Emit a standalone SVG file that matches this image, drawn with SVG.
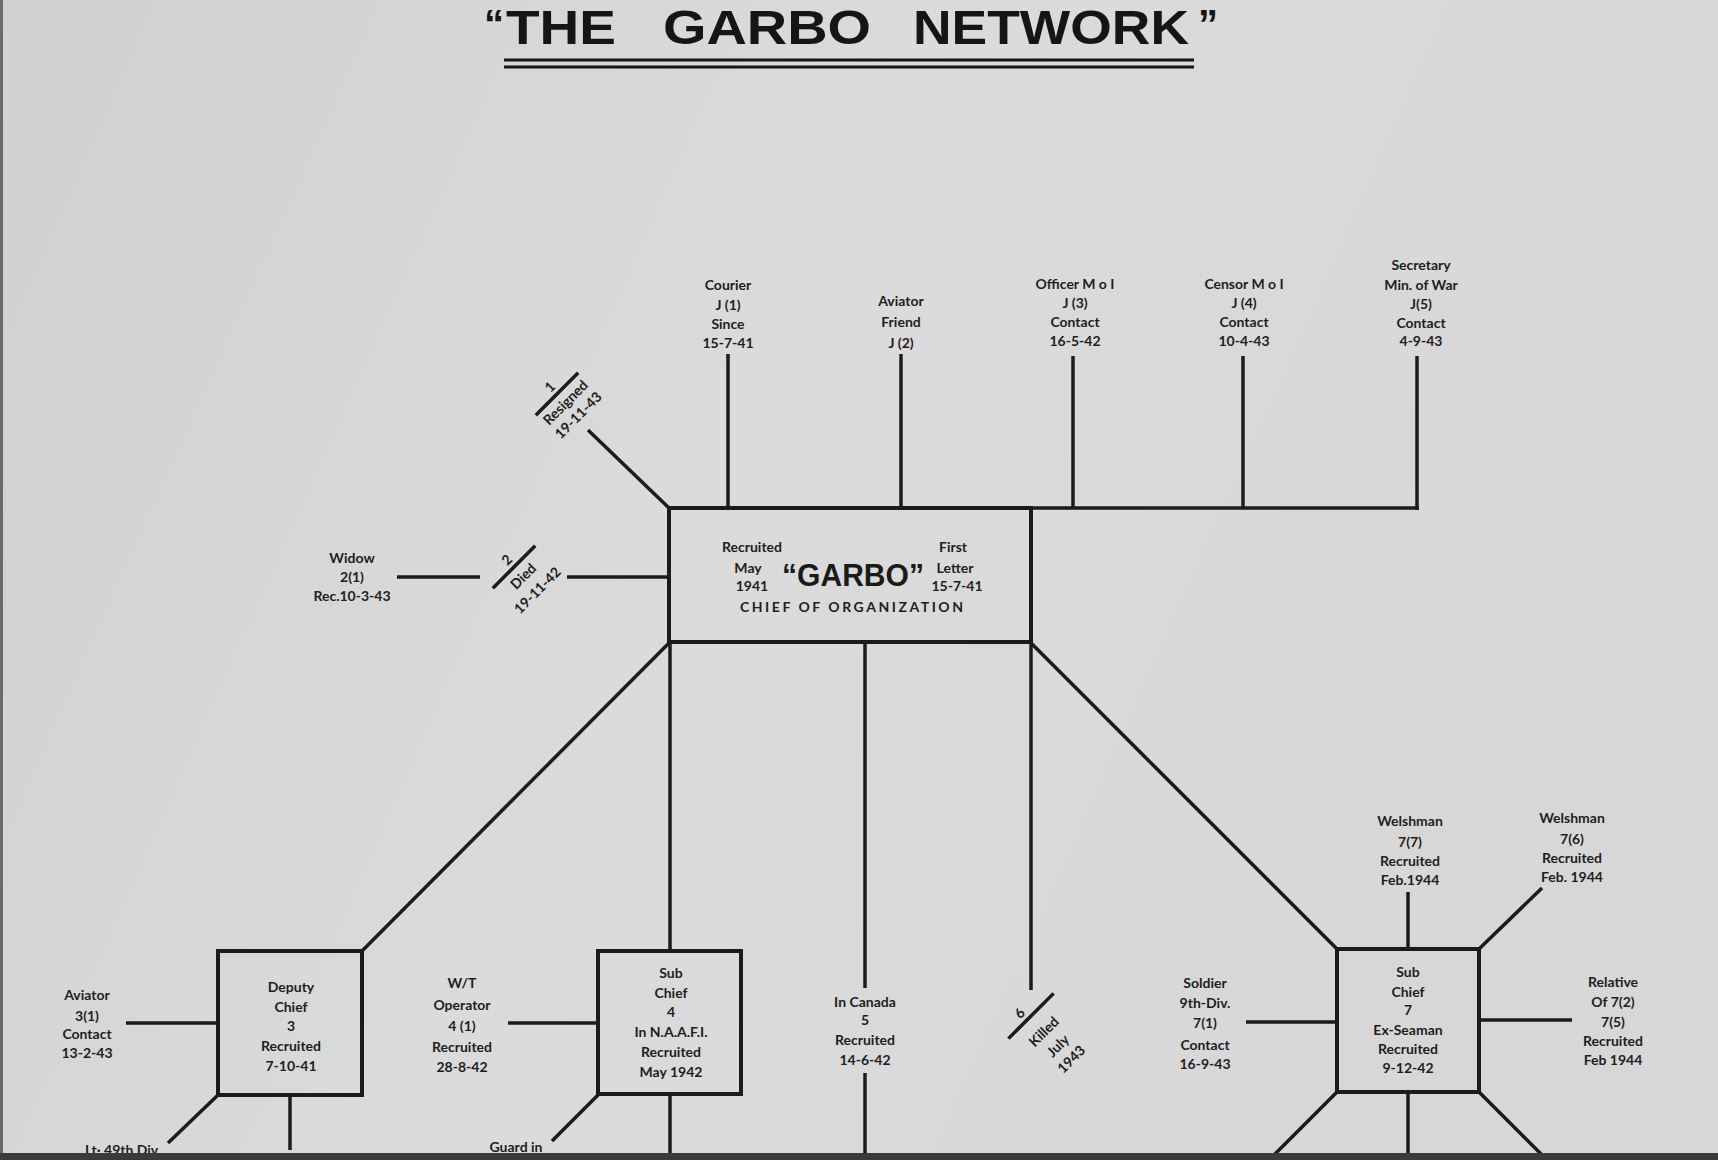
<svg xmlns="http://www.w3.org/2000/svg" width="1718" height="1160" viewBox="0 0 1718 1160">
<defs>
<linearGradient id="bg" x1="0" y1="0" x2="1" y2="0.3">
<stop offset="0" stop-color="#d0d0d0"/>
<stop offset="0.5" stop-color="#dbdbdb"/>
<stop offset="1" stop-color="#d7d7d7"/>
</linearGradient>
<style>
.ln{stroke:#1b1b1b;stroke-width:3.5;fill:none}
.bx{stroke:#1b1b1b;stroke-width:4;fill:none}
.t{font-family:Lato,"Liberation Sans",sans-serif;font-weight:700;font-size:14px;fill:#1e1e1e;text-anchor:middle}
.ttl{font-family:"Liberation Sans",Arial,sans-serif;font-weight:700;font-size:49px;fill:#151515}
.q{font-family:"Liberation Sans",Arial,sans-serif;font-weight:700;font-size:40px;fill:#151515}
.big{font-family:"Liberation Sans",Arial,sans-serif;font-weight:700;font-size:31px;fill:#1a1a1a;text-anchor:middle}
.ul{stroke:#151515;stroke-width:3}
</style>
</defs>
<rect width="1718" height="1160" fill="url(#bg)"/>
<rect x="0" y="0" width="3" height="1160" fill="#6a6a6a"/>

<g id="title">
<text class="q" x="484" y="38">“</text>
<text class="q" x="1198" y="38">”</text>
<text class="ttl" x="506" y="44" textLength="110" lengthAdjust="spacingAndGlyphs">THE</text>
<text class="ttl" x="663" y="44" textLength="208" lengthAdjust="spacingAndGlyphs">GARBO</text>
<text class="ttl" x="913" y="44" textLength="276" lengthAdjust="spacingAndGlyphs">NETWORK</text>
<line class="ul" x1="504" y1="60" x2="1194" y2="60"/>
<line class="ul" x1="504" y1="67" x2="1194" y2="67"/>
</g>

<g id="connectors">
<line class="ln" x1="669" y1="508" x2="588" y2="430"/>
<line class="ln" x1="728" y1="508" x2="728" y2="354"/>
<line class="ln" x1="901" y1="508" x2="901" y2="354"/>
<line class="ln" x1="1073" y1="508" x2="1073" y2="356"/>
<line class="ln" x1="1243" y1="508" x2="1243" y2="356"/>
<line class="ln" x1="1417" y1="510" x2="1417" y2="356"/>
<line class="ln" x1="1031" y1="508" x2="1419" y2="508"/>
<line class="ln" x1="670" y1="577" x2="567" y2="577"/>
<line class="ln" x1="480" y1="577" x2="397" y2="577"/>
<line class="ln" x1="669" y1="643" x2="362" y2="951"/>
<line class="ln" x1="670" y1="643" x2="670" y2="951"/>
<line class="ln" x1="865" y1="643" x2="865" y2="988"/>
<line class="ln" x1="865" y1="1073" x2="865" y2="1160"/>
<line class="ln" x1="1031" y1="643" x2="1031" y2="990"/>
<line class="ln" x1="1031" y1="643" x2="1337" y2="949"/>
<line class="ln" x1="218" y1="1023" x2="126" y2="1023"/>
<line class="ln" x1="218" y1="1095" x2="168" y2="1143"/>
<line class="ln" x1="290" y1="1095" x2="290" y2="1150"/>
<line class="ln" x1="598" y1="1023" x2="508" y2="1023"/>
<line class="ln" x1="598" y1="1095" x2="552" y2="1141"/>
<line class="ln" x1="670" y1="1095" x2="670" y2="1160"/>
<line class="ln" x1="1408" y1="949" x2="1408" y2="892"/>
<line class="ln" x1="1479" y1="949" x2="1542" y2="888"/>
<line class="ln" x1="1337" y1="1022" x2="1246" y2="1022"/>
<line class="ln" x1="1479" y1="1020" x2="1572" y2="1020"/>
<line class="ln" x1="1337" y1="1092" x2="1274" y2="1155"/>
<line class="ln" x1="1408" y1="1092" x2="1408" y2="1160"/>
<line class="ln" x1="1479" y1="1092" x2="1542" y2="1155"/>
</g>

<g id="resigned" transform="translate(557,394) rotate(-45)">
<line class="ln" x1="-30" y1="0" x2="30" y2="0"/>
<text class="t" x="0" y="-5">1</text>
<text class="t" x="0" y="17">Resigned</text>
<text class="t" x="0" y="35">19-11-43</text>
</g>
<g id="died" transform="translate(514,567) rotate(-45)">
<line class="ln" x1="-30" y1="0" x2="30" y2="0"/>
<text class="t" x="0" y="-5">2</text>
<text class="t" x="0" y="18">Died</text>
<text class="t" x="0" y="38">19-11-42</text>
</g>
<g id="killed" transform="translate(1031,1016) rotate(-45)">
<line class="ln" x1="-32" y1="0" x2="32" y2="0"/>
<text class="t" x="-6" y="-5">6</text>
<text class="t" x="-2" y="25">Killed</text>
<text class="t" x="-2" y="45">July</text>
<text class="t" x="-2" y="64">1943</text>
</g>

<g id="garbo">
<rect class="bx" x="669" y="508" width="362" height="134"/>
<text class="t" x="752" y="552">Recruited</text>
<text class="t" x="748" y="573">May</text>
<text class="t" x="752" y="591">1941</text>
<text class="big" x="853" y="586" textLength="142" lengthAdjust="spacingAndGlyphs">“GARBO”</text>
<text class="t" x="953" y="552">First</text>
<text class="t" x="955" y="573">Letter</text>
<text class="t" x="957" y="591">15-7-41</text>
<text class="t" x="740" y="612" style="text-anchor:start" textLength="223" lengthAdjust="spacing">CHIEF   OF   ORGANIZATION</text>
</g>

<g id="courier">
<text class="t" x="728" y="290">Courier</text>
<text class="t" x="728" y="310">J (1)</text>
<text class="t" x="728" y="329">Since</text>
<text class="t" x="728" y="348">15-7-41</text>
</g>
<g id="aviator-friend">
<text class="t" x="901" y="306">Aviator</text>
<text class="t" x="901" y="327">Friend</text>
<text class="t" x="901" y="348">J (2)</text>
</g>
<g id="officer">
<text class="t" x="1075" y="289">Officer M o I</text>
<text class="t" x="1075" y="308">J (3)</text>
<text class="t" x="1075" y="327">Contact</text>
<text class="t" x="1075" y="346">16-5-42</text>
</g>
<g id="censor">
<text class="t" x="1244" y="289">Censor M o I</text>
<text class="t" x="1244" y="308">J (4)</text>
<text class="t" x="1244" y="327">Contact</text>
<text class="t" x="1244" y="346">10-4-43</text>
</g>
<g id="secretary">
<text class="t" x="1421" y="270">Secretary</text>
<text class="t" x="1421" y="290">Min. of War</text>
<text class="t" x="1421" y="309">J(5)</text>
<text class="t" x="1421" y="328">Contact</text>
<text class="t" x="1421" y="346">4-9-43</text>
</g>
<g id="widow">
<text class="t" x="352" y="563">Widow</text>
<text class="t" x="352" y="582">2(1)</text>
<text class="t" x="352" y="601">Rec.10-3-43</text>
</g>

<g id="deputy">
<rect class="bx" x="218" y="951" width="144" height="144"/>
<text class="t" x="291" y="992">Deputy</text>
<text class="t" x="291" y="1012">Chief</text>
<text class="t" x="291" y="1031">3</text>
<text class="t" x="291" y="1051">Recruited</text>
<text class="t" x="291" y="1071">7-10-41</text>
</g>
<g id="aviator-3-1">
<text class="t" x="87" y="1000">Aviator</text>
<text class="t" x="87" y="1021">3(1)</text>
<text class="t" x="87" y="1039">Contact</text>
<text class="t" x="87" y="1058">13-2-43</text>
</g>
<g id="lt49">
<text class="t" x="123" y="1155">Lt· 49th Div.</text>
</g>

<g id="subchief4">
<rect class="bx" x="598" y="951" width="143" height="143"/>
<text class="t" x="671" y="978">Sub</text>
<text class="t" x="671" y="998">Chief</text>
<text class="t" x="671" y="1017">4</text>
<text class="t" x="671" y="1037">In N.A.A.F.I.</text>
<text class="t" x="671" y="1057">Recruited</text>
<text class="t" x="671" y="1077">May 1942</text>
</g>
<g id="wt-operator">
<text class="t" x="462" y="988">W/T</text>
<text class="t" x="462" y="1010">Operator</text>
<text class="t" x="462" y="1031">4 (1)</text>
<text class="t" x="462" y="1052">Recruited</text>
<text class="t" x="462" y="1072">28-8-42</text>
</g>
<g id="guard">
<text class="t" x="516" y="1152">Guard in</text>
</g>
<g id="canada">
<text class="t" x="865" y="1007">In Canada</text>
<text class="t" x="865" y="1025">5</text>
<text class="t" x="865" y="1045">Recruited</text>
<text class="t" x="865" y="1065">14-6-42</text>
</g>

<g id="subchief7">
<rect class="bx" x="1337" y="949" width="142" height="143"/>
<text class="t" x="1408" y="977">Sub</text>
<text class="t" x="1408" y="997">Chief</text>
<text class="t" x="1408" y="1015">7</text>
<text class="t" x="1408" y="1035">Ex-Seaman</text>
<text class="t" x="1408" y="1054">Recruited</text>
<text class="t" x="1408" y="1073">9-12-42</text>
</g>
<g id="welshman77">
<text class="t" x="1410" y="826">Welshman</text>
<text class="t" x="1410" y="847">7(7)</text>
<text class="t" x="1410" y="866">Recruited</text>
<text class="t" x="1410" y="885">Feb.1944</text>
</g>
<g id="welshman76">
<text class="t" x="1572" y="823">Welshman</text>
<text class="t" x="1572" y="844">7(6)</text>
<text class="t" x="1572" y="863">Recruited</text>
<text class="t" x="1572" y="882">Feb. 1944</text>
</g>
<g id="soldier">
<text class="t" x="1205" y="988">Soldier</text>
<text class="t" x="1205" y="1008">9th-Div.</text>
<text class="t" x="1205" y="1028">7(1)</text>
<text class="t" x="1205" y="1050">Contact</text>
<text class="t" x="1205" y="1069">16-9-43</text>
</g>
<g id="relative">
<text class="t" x="1613" y="987">Relative</text>
<text class="t" x="1613" y="1007">Of 7(2)</text>
<text class="t" x="1613" y="1027">7(5)</text>
<text class="t" x="1613" y="1046">Recruited</text>
<text class="t" x="1613" y="1065">Feb 1944</text>
</g>

<rect x="0" y="1153" width="1718" height="7" fill="#3a3a3a"/>
</svg>
